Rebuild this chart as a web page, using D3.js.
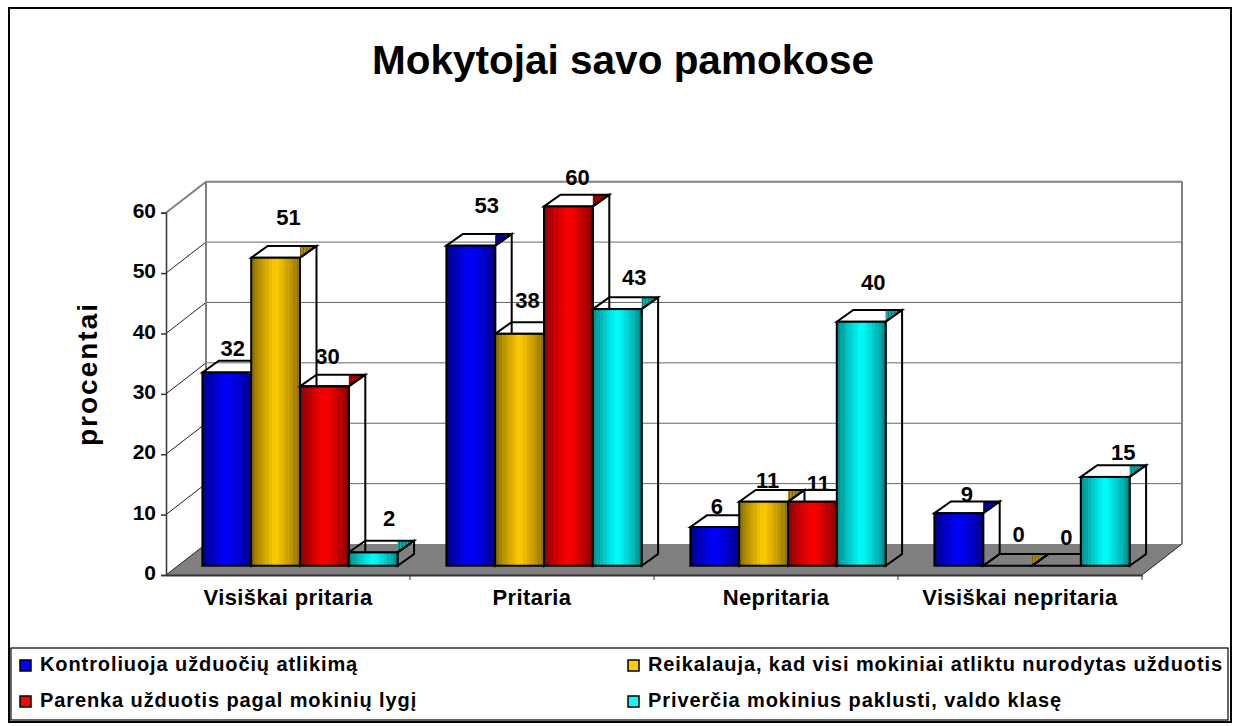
<!DOCTYPE html>
<html>
<head>
<meta charset="utf-8">
<script src="https://cdn.jsdelivr.net/npm/d3@7"></script>
<style>
  html, body { margin: 0; padding: 0; background: #fff; }
  svg { display: block; }
  text { font-family: "Liberation Sans", Arial, sans-serif; font-weight: bold; fill: #000; }
</style>
</head>
<body>
<svg id="chart" width="1238" height="726"></svg>
<script>
var chartTitle = "Mokytojai savo pamokose";
var axisTitle = "procentai";
var categories = ["Visiškai pritaria", "Pritaria", "Nepritaria", "Visiškai nepritaria"];
var seriesNames = [
    "Kontroliuoja užduočių atlikimą",
    "Reikalauja, kad visi mokiniai atliktu nurodytas užduotis",
    "Parenka užduotis pagal mokinių lygį",
    "Priverčia mokinius paklusti, valdo klasę"
];
var seriesColors = ["#0000ff", "#ffcc00", "#ff0000", "#00ffff"];
var kontroliuoja = [32, 53, 6.4, 8.7];
var reikalauja = [51, 38.4, 10.6, 0];
var parenka = [29.7, 59.5, 10.6, 0];
var priverčia = [2.2, 42.5, 40.4, 14.7];
var yTicks = [0, 10, 20, 30, 40, 50, 60];

var seriesValues = [kontroliuoja, reikalauja, parenka, priverčia];

// hand placed label nudges, the original chart had them dragged around
var labelNudge = [
    [[6, -24], [16, -41], [2, -21], [8, -19]],
    [[13, -41], [8, -34], [4, -22], [11, -32]],
    [[3, -30], [9, -29], [6, -19], [10, -29]],
    [[16, -34], [17, -32], [12, -40], [18, -25]]
];

var svg = d3.select("#chart");

// front plane of the 3d box
var frontLeft = 166, frontRight = 1142, front0 = 575, front60 = 212.7;
var wallDx = 40, wallDy = -31;
// bars stand a bit inside the floor
var barDx = 12, barDy = -9.3;
var sideDx = 16.5, sideDy = -11.7;

var y = d3.scaleLinear().domain([0, 60]).range([front0, front60]);

var xGroup = d3.scaleBand()
    .domain(categories)
    .range([frontLeft + barDx, frontRight + barDx])
    .paddingInner(0.2)
    .paddingOuter(0.1);

var xBar = d3.scaleBand()
    .domain(d3.range(seriesNames.length))
    .range([0, xGroup.bandwidth()]);

var xAxisScale = d3.scaleBand()
    .domain(categories)
    .range([frontLeft, frontRight]);

function poly(points) {
    return points.map(function (p) { return p.join(","); }).join(" ");
}

// outer frames
svg.append("rect").attr("x", 9).attr("y", 8).attr("width", 1222).attr("height", 714)
    .attr("fill", "#fff").attr("stroke", "#000").attr("stroke-width", 2);

svg.append("text")
    .attr("x", 623).attr("y", 74)
    .attr("text-anchor", "middle")
    .style("font-size", "40.5px")
    .text(chartTitle);

// gradients, banded like the old office render
var defs = svg.append("defs");
var bands = 14;
seriesColors.forEach(function (c, i) {
    var dark = d3.rgb(c).darker(1.9);
    var mix = d3.interpolateRgb(dark, c);
    var grad = defs.append("linearGradient").attr("id", "bar" + i);
    for (let b = 0; b < bands; b++) {
        var t = (b + 0.5) / bands;
        var k = 1 - Math.abs(t - 0.5) * 2;
        var col = mix(Math.pow(k, 0.8));
        grad.append("stop").attr("offset", b / bands).attr("stop-color", col);
        grad.append("stop").attr("offset", (b + 1) / bands).attr("stop-color", col);
    }
    // striped fill for the corner of the top face
    var pat = defs.append("pattern").attr("id", "corner" + i)
        .attr("patternUnits", "userSpaceOnUse").attr("width", 3).attr("height", 3);
    pat.append("rect").attr("width", 3).attr("height", 3).attr("fill", d3.rgb(c).darker(1.1));
    pat.append("rect").attr("width", 1).attr("height", 3).attr("fill", d3.rgb(c).darker(1.9));
});

// floor
svg.append("polygon")
    .attr("points", poly([
        [frontLeft, front0],
        [frontLeft + wallDx, front0 + wallDy],
        [frontRight + wallDx, front0 + wallDy],
        [frontRight, front0]
    ]))
    .attr("fill", "#808080");

// back and side grid lines
var grid = svg.append("g");
yTicks.forEach(function (t) {
    var top = t === 60;
    if (t > 0) {
        grid.append("line")
            .attr("x1", frontLeft + wallDx).attr("x2", frontRight + wallDx)
            .attr("y1", y(t) + wallDy).attr("y2", y(t) + wallDy)
            .attr("stroke", top ? "#808080" : "#666")
            .attr("stroke-width", top ? 2 : 1);
    }
    grid.append("line")
        .attr("x1", frontLeft).attr("x2", frontLeft + wallDx)
        .attr("y1", y(t)).attr("y2", y(t) + wallDy)
        .attr("stroke", top ? "#808080" : "#222")
        .attr("stroke-width", top ? 2 : 1);
});
grid.append("line")
    .attr("x1", frontLeft + wallDx).attr("x2", frontLeft + wallDx)
    .attr("y1", y(60) + wallDy).attr("y2", y(0) + wallDy)
    .attr("stroke", "#808080").attr("stroke-width", 2);
grid.append("line")
    .attr("x1", frontRight + wallDx).attr("x2", frontRight + wallDx)
    .attr("y1", y(60) + wallDy).attr("y2", y(0) + wallDy)
    .attr("stroke", "#808080").attr("stroke-width", 2);

// y axis
var yAxis = svg.append("g")
    .attr("transform", "translate(" + frontLeft + ",0)")
    .call(d3.axisLeft(y).tickValues(yTicks).tickSize(5).tickPadding(5));
yAxis.selectAll("text")
    .attr("dy", "0.22em")
    .style("font-size", "21px")
    .style("font-family", '"Liberation Sans"');
yAxis.selectAll("path, line").attr("stroke", "#333").attr("stroke-width", 1.5);

// x axis
var xAxis = svg.append("g")
    .attr("transform", "translate(0," + front0 + ")")
    .call(d3.axisBottom(xAxisScale).tickSize(0).tickPadding(14));
xAxis.selectAll("text")
    .style("font-size", "22px")
    .style("letter-spacing", "0.4px")
    .style("font-family", '"Liberation Sans"');
xAxis.select("path").attr("stroke", "#333").attr("stroke-width", 2);
categories.forEach(function (c, i) {
    xAxis.append("line")
        .attr("x1", xAxisScale(c) + xAxisScale.step()).attr("x2", xAxisScale(c) + xAxisScale.step())
        .attr("y1", 0).attr("y2", 5)
        .attr("stroke", "#333").attr("stroke-width", 1);
});

// floor edge on the right
svg.append("line")
    .attr("x1", frontRight).attr("y1", front0)
    .attr("x2", frontRight + wallDx).attr("y2", front0 + wallDy)
    .attr("stroke", "#222").attr("stroke-width", 1);

svg.append("text")
    .attr("transform", "translate(97,374) rotate(-90)")
    .attr("text-anchor", "middle")
    .style("font-size", "28px")
    .style("letter-spacing", "2px")
    .text(axisTitle);

// bars, groups left to right so later fronts hide the earlier side faces
categories.forEach(function (cat, c) {
    seriesValues.forEach(function (vals, s) {
        var x0 = xGroup(cat) + xBar(s);
        var x1 = x0 + xBar.bandwidth();
        var base = y(0) + barDy;
        var top = y(vals[c]) + barDy;
        var g = svg.append("g");

        // corner triangle of the top face keeps the dark series colour
        g.append("polygon")
            .attr("points", poly([[x1, top], [x1, top + sideDy], [x1 + sideDx, top + sideDy]]))
            .attr("fill", "url(#corner" + s + ")");

        g.append("polygon")
            .attr("points", poly([[x0, top], [x0 + sideDx, top + sideDy], [x1 + sideDx, top + sideDy], [x1, top]]))
            .attr("fill", "none").attr("stroke", "#000").attr("stroke-width", 2);

        g.append("polygon")
            .attr("points", poly([[x1, top], [x1 + sideDx, top + sideDy], [x1 + sideDx, base + sideDy], [x1, base]]))
            .attr("fill", "none").attr("stroke", "#000").attr("stroke-width", 2);

        g.append("rect")
            .attr("x", x0).attr("y", top)
            .attr("width", xBar.bandwidth()).attr("height", base - top)
            .attr("fill", "url(#bar" + s + ")")
            .attr("stroke", "#000").attr("stroke-width", 2);
    });
});

// value labels go last, the picture shows them rounded
seriesValues.forEach(function (vals, s) {
    vals.forEach(function (v, c) {
        var cx = xGroup(categories[c]) + xBar(s) + xBar.bandwidth() / 2;
        svg.append("text")
            .attr("x", cx + labelNudge[s][c][0])
            .attr("y", y(v) + barDy + labelNudge[s][c][1])
            .attr("dy", "0.36em")
            .attr("text-anchor", "middle")
            .style("font-size", "22px")
            .text(Math.round(v));
    });
});

// legend
svg.append("rect").attr("x", 11).attr("y", 648).attr("width", 1217).attr("height", 72)
    .attr("fill", "#fff").attr("stroke", "#000").attr("stroke-width", 1.2);

var legendCols = [20, 628], legendRows = [665, 701];
seriesNames.forEach(function (name, i) {
    var lx = legendCols[i % 2], ly = legendRows[Math.floor(i / 2)];
    svg.append("rect")
        .attr("x", lx).attr("y", ly - 5).attr("width", 11).attr("height", 11)
        .attr("fill", seriesColors[i]).attr("stroke", "#000").attr("stroke-width", 1.5);
    svg.append("text")
        .attr("x", lx + 20).attr("y", ly + 6)
        .style("font-size", "20px")
        .style("letter-spacing", "0.9px")
        .text(name);
});
</script>
</body>
</html>
